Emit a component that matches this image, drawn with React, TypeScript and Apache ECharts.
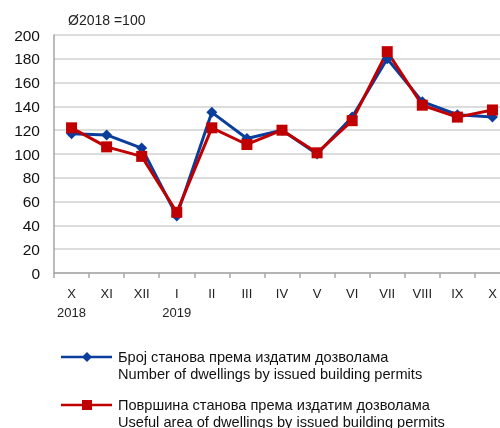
import React, { useEffect, useRef } from "react";
import * as echarts from "echarts";

const categories = ["X\n2018", "XI", "XII", "I\n2019", "II", "III", "IV", "V", "VI", "VII", "VIII", "IX", "X"];
const dwellingsNumber = [117, 116, 105, 48, 135, 113, 120, 100, 131, 180, 144, 133, 131];
const dwellingsArea = [122, 106, 98, 51, 122, 108, 120, 101, 128, 186, 141, 131, 137];
const seriesNames = [
  "Број станова према издатим дозволама\nNumber of dwellings by issued building permits",
  "Површина станова према издатим дозволама\nUseful area of dwellings by issued building permits",
];

const BLUE = "#0B3D9C";
const RED = "#C00000";
const FONT = "Liberation Sans, Arial, sans-serif";

export default function App() {
  const ref = useRef<HTMLDivElement>(null);
  useEffect(() => {
    if (!ref.current) return;
    const chart = echarts.init(ref.current, undefined, { renderer: "svg" });
    chart.setOption({
      animation: false,
      textStyle: { fontFamily: FONT },
      grid: { left: 54, right: 0, top: 35, height: 238 },
      xAxis: {
        type: "category",
        data: categories,
        boundaryGap: true,
        axisLine: { lineStyle: { color: "#A6A6A6", width: 1.5 } },
        axisTick: { show: true, length: 5, interval: 0, lineStyle: { color: "#A6A6A6", width: 1.5 } },
        axisLabel: { color: "#222", fontSize: 13, fontFamily: FONT, margin: 11, lineHeight: 19, interval: 0 },
      },
      yAxis: {
        type: "value",
        min: 0,
        max: 200,
        interval: 20,
        axisLine: { show: true, lineStyle: { color: "#A6A6A6", width: 1.5 } },
        axisTick: { show: false },
        splitLine: { lineStyle: { color: "#D0D0D0", width: 1.5 } },
        axisLabel: { color: "#111", fontSize: 15.5, fontFamily: FONT, margin: 14 },
      },
      graphic: [
        { type: "text", x: 68, y: 13, style: { text: "Ø2018 =100", fontSize: 14, fontFamily: FONT, fill: "#222" } },
        { type: "line", shape: { x1: 61, y1: 357, x2: 112, y2: 357 }, style: { stroke: BLUE, lineWidth: 2.5 } },
        { type: "polygon", shape: { points: [[87, 352], [92, 357], [87, 362], [82, 357]] }, style: { fill: BLUE } },
        { type: "text", x: 118, y: 348.5, style: { text: seriesNames[0], fontSize: 14.6, lineHeight: 17, fontFamily: FONT, fill: "#111" } },
        { type: "line", shape: { x1: 61, y1: 405, x2: 112, y2: 405 }, style: { stroke: RED, lineWidth: 2.5 } },
        { type: "rect", shape: { x: 82, y: 400, width: 10, height: 10 }, style: { fill: RED } },
        { type: "text", x: 118, y: 396, style: { text: seriesNames[1], fontSize: 14.6, lineHeight: 17, fontFamily: FONT, fill: "#111" } },
      ],
      series: [
        {
          name: seriesNames[0],
          type: "line",
          data: dwellingsNumber,
          symbol: "diamond",
          symbolSize: 11,
          lineStyle: { color: BLUE, width: 3 },
          itemStyle: { color: BLUE },
        },
        {
          name: seriesNames[1],
          type: "line",
          data: dwellingsArea,
          symbol: "rect",
          symbolSize: 11,
          lineStyle: { color: RED, width: 3 },
          itemStyle: { color: RED },
        },
      ],
    });
    return () => chart.dispose();
  }, []);
  return (
    <div style={{ position: "fixed", left: 0, top: 0, width: 500, height: 428, overflow: "hidden" }}>
      <div ref={ref} style={{ width: 510, height: 428 }} />
    </div>
  );
}
